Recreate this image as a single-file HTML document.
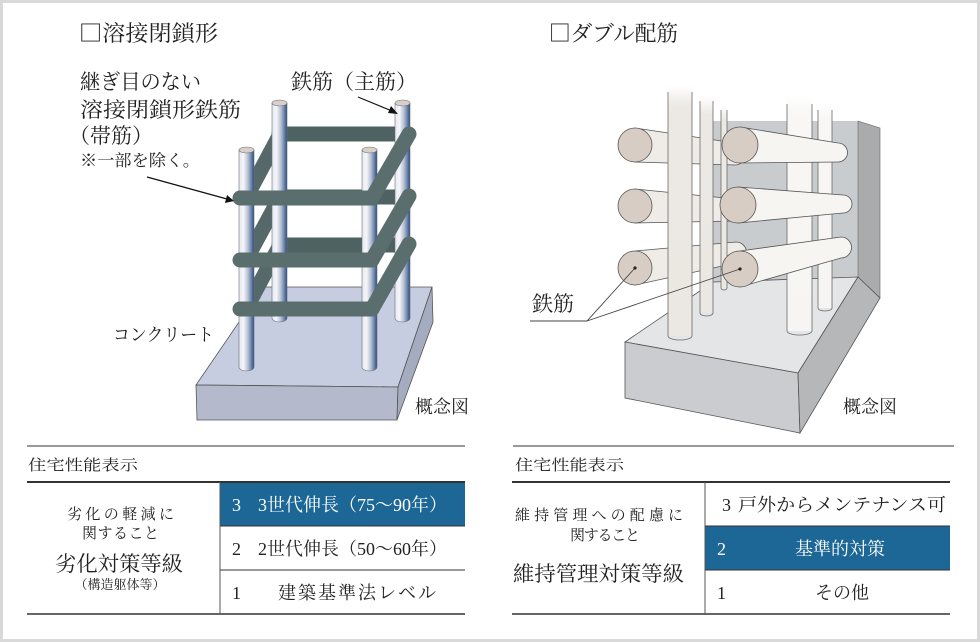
<!DOCTYPE html>
<html><head><meta charset="utf-8"><style>
html,body{margin:0;padding:0;background:#fff;}
svg{display:block;}
text{font-family:"Liberation Serif","Noto Serif CJK SC",serif;fill:#222;}
.cjk{font-family:"Noto Serif CJK SC","Noto Sans CJK JP",serif;}
</style></head><body>
<svg width="980" height="642" viewBox="0 0 980 642" xmlns="http://www.w3.org/2000/svg">
<defs>
<linearGradient id="col" x1="0" y1="0" x2="1" y2="0">
<stop offset="0" stop-color="#e6e8f0"/><stop offset="0.3" stop-color="#f6f6f9"/>
<stop offset="0.6" stop-color="#b4bfd3"/><stop offset="0.85" stop-color="#5f7ba6"/>
<stop offset="1" stop-color="#2d4a78"/></linearGradient>
<linearGradient id="vfade" x1="0" y1="0" x2="0" y2="1">
<stop offset="0" stop-color="#ffffff"/><stop offset="0.08" stop-color="#ece9e4"/><stop offset="1" stop-color="#ebe7e2"/></linearGradient>
<linearGradient id="vfade2" x1="0" y1="0" x2="0" y2="1">
<stop offset="0" stop-color="#ffffff"/><stop offset="0.08" stop-color="#f8f7f5"/><stop offset="1" stop-color="#f6f5f3"/></linearGradient>
</defs>

<rect x="1.5" y="1.5" width="977" height="639" fill="#fff" stroke="#d9d9d9" stroke-width="3"/>

<!-- ===== LEFT TITLE & LABELS ===== -->
<text x="79" y="41" font-size="22" textLength="139" lengthAdjust="spacingAndGlyphs"><tspan class="cjk">□</tspan>溶接閉鎖形</text>
<text x="80" y="89" font-size="21" textLength="121" lengthAdjust="spacingAndGlyphs">継ぎ目のない</text>
<text x="80" y="117" font-size="21" textLength="161" lengthAdjust="spacingAndGlyphs">溶接閉鎖形鉄筋</text>
<text x="69" y="143" font-size="21">（帯筋）</text>
<text x="80" y="166" font-size="16.5" textLength="120" lengthAdjust="spacingAndGlyphs">※一部を除く。</text>
<text x="291" y="89" font-size="21">鉄筋（主筋）</text>

<!-- slab -->
<polygon points="263,287 432,287 398,387 196,385" fill="#c6cde0" stroke="#555" stroke-width="0.8"/>
<polygon points="196,385 398,387 397,420 197,420" fill="#b4bacb" stroke="#555" stroke-width="0.8"/>
<polygon points="432,287 433,322 397,420 398,387" fill="#a5acbf" stroke="#555" stroke-width="0.8"/>

<!-- back bars -->
<g stroke="#4f6262" stroke-width="15" stroke-linecap="round">
<line x1="279" y1="134" x2="402" y2="134"/>
<line x1="279" y1="197" x2="402" y2="197"/>
<line x1="279" y1="245" x2="402" y2="245"/>
</g>
<!-- left diags -->
<g stroke="#56696a" stroke-width="15" stroke-linecap="round">
<line x1="279" y1="136" x2="246" y2="198"/>
<line x1="279" y1="199" x2="246" y2="260"/>
<line x1="279" y1="247" x2="246" y2="309"/>
</g>

<!-- columns -->
<g stroke="#6a6f7a" stroke-width="0.6">
<path d="M272 103 V318 A7.5 4 0 0 0 287 318 V103 Z" fill="url(#col)"/>
<ellipse cx="279.5" cy="103" rx="7.5" ry="3" fill="#d9cfc7"/>
<path d="M395 103 V318 A7.5 4 0 0 0 410 318 V103 Z" fill="url(#col)"/>
<ellipse cx="402.5" cy="103" rx="7.5" ry="3" fill="#d9cfc7"/>
<path d="M239 150 V367 A7.5 4 0 0 0 254 367 V150 Z" fill="url(#col)"/>
<ellipse cx="246.5" cy="150" rx="7.5" ry="3" fill="#d9cfc7"/>
<path d="M362 150 V367 A7.5 4 0 0 0 377 367 V150 Z" fill="url(#col)"/>
<ellipse cx="369.5" cy="150" rx="7.5" ry="3" fill="#d9cfc7"/>
</g>

<!-- front bars & right diags -->
<g stroke="#5b6e6e" stroke-width="15" stroke-linecap="round">
<line x1="240" y1="198" x2="372" y2="198"/>
<line x1="240" y1="260" x2="372" y2="260"/>
<line x1="240" y1="309" x2="372" y2="309"/>
<line x1="409" y1="134" x2="372" y2="198"/>
<line x1="409" y1="196" x2="372" y2="260"/>
<line x1="409" y1="244" x2="372" y2="309"/>
</g>

<!-- arrows -->
<g stroke="#111" stroke-width="1.2">
<line x1="358" y1="97" x2="392" y2="111"/>
<line x1="147" y1="177" x2="227" y2="199"/>
</g>
<polygon points="398,114 388,113 391,106" fill="#111"/>
<polygon points="234,201 225,203 227,195" fill="#111"/>

<text x="113" y="341" font-size="18" textLength="101" lengthAdjust="spacingAndGlyphs">コンクリート</text>
<text x="415" y="413" font-size="18">概念図</text>

<!-- ===== RIGHT TITLE ===== -->
<text x="549" y="41" font-size="22" textLength="129" lengthAdjust="spacingAndGlyphs"><tspan class="cjk">□</tspan>ダブル配筋</text>

<!-- wall & slab -->
<rect x="713" y="121" width="145" height="161" fill="#c9ccce"/>
<polygon points="858,121 880,128 880,298 858,277" fill="#a9abad" stroke="#666" stroke-width="0.6"/>
<polygon points="625,342 713,282 858,277 798,373" fill="#e3e5e7" stroke="#555" stroke-width="0.8"/>
<polygon points="625,342 798,373 800,433 625,398" fill="#cacccf" stroke="#555" stroke-width="0.8"/>
<polygon points="858,277 880,298 800,433 798,373" fill="#b5b7b9" stroke="#555" stroke-width="0.8"/>

<!-- back verticals -->
<rect x="787" y="96" width="25" height="235" fill="url(#vfade2)"/>
<path d="M787 104 V331 A12.5 4 0 0 0 812 331 V104" fill="none" stroke="#6a6a6a" stroke-width="0.8"/>
<rect x="818" y="103" width="14" height="205" fill="url(#vfade2)"/>
<path d="M818 110 V308 A7 3 0 0 0 832 308 V110" fill="none" stroke="#6a6a6a" stroke-width="0.8"/>

<!-- left group horizontal bars -->
<g stroke="#555" stroke-width="0.8">
<path d="M635 128 L735 143 A11 11 0 0 1 735 165 L635 162 Z" fill="#efebe6"/>
<circle cx="635" cy="145" r="17" fill="#d8cdc5"/>
<path d="M635 189 L735 199 A11 11 0 0 1 735 221 L635 223 Z" fill="#efebe6"/>
<circle cx="635" cy="206" r="17" fill="#d8cdc5"/>
<path d="M635 251 L736 242 A10.5 10.5 0 0 1 736 263 L635 285 Z" fill="#efebe6"/>
<circle cx="635" cy="268" r="17" fill="#d8cdc5"/>
</g>

<!-- front verticals -->
<rect x="668" y="86" width="24" height="250" fill="url(#vfade)"/>
<path d="M668 92 V336 A12 4 0 0 0 692 336 V92" fill="none" stroke="#6a6a6a" stroke-width="0.8"/>
<rect x="700" y="97" width="13" height="216" fill="url(#vfade)"/>
<path d="M700 101 V313 A6.5 3 0 0 0 713 313 V101" fill="none" stroke="#6a6a6a" stroke-width="0.8"/>
<rect x="721" y="106" width="6" height="182" fill="url(#vfade)"/>
<path d="M721 110 V288 A3 2 0 0 0 727 288 V110" fill="none" stroke="#6a6a6a" stroke-width="0.8"/>

<!-- right group horizontal bars -->
<g stroke="#555" stroke-width="0.8">
<path d="M740 127 L838 143 A9.5 9.5 0 0 1 838 162 L740 163 Z" fill="#f7f5f2"/>
<circle cx="740" cy="145" r="18" fill="#d8cdc5"/>
<path d="M738 187 L843 195 A9 9 0 0 1 843 213 L738 223 Z" fill="#f7f5f2"/>
<circle cx="738" cy="205" r="18" fill="#d8cdc5"/>
<path d="M740 251 L841 237 A10.5 10.5 0 0 1 841 258 L740 287 Z" fill="#f7f5f2"/>
<circle cx="740" cy="269" r="18" fill="#d8cdc5"/>
</g>

<!-- leader -->
<g stroke="#444" stroke-width="0.9" fill="none">
<polyline points="530,321 587,321 635,268"/>
<line x1="587" y1="321" x2="740" y2="269"/>
</g>
<circle cx="635" cy="268" r="1.6" fill="#222"/>
<circle cx="740" cy="269" r="1.6" fill="#222"/>
<text x="532" y="311" font-size="21">鉄筋</text>
<text x="843" y="413" font-size="18">概念図</text>

<!-- ===== LEFT TABLE ===== -->
<line x1="27" y1="446" x2="465" y2="446" stroke="#333" stroke-width="1"/>
<text x="28" y="470" font-size="15" textLength="110" lengthAdjust="spacingAndGlyphs">住宅性能表示</text>
<rect x="220" y="482" width="245" height="44" fill="#1d6797"/>
<line x1="27" y1="482" x2="465" y2="482" stroke="#333" stroke-width="2"/>
<line x1="220" y1="526" x2="465" y2="526" stroke="#333" stroke-width="1"/>
<line x1="220" y1="570" x2="465" y2="570" stroke="#333" stroke-width="1"/>
<line x1="27" y1="614" x2="465" y2="614" stroke="#333" stroke-width="1.5"/>
<line x1="220" y1="482" x2="220" y2="614" stroke="#555" stroke-width="1"/>
<text x="67" y="519" font-size="15" textLength="107" lengthAdjust="spacing">劣化の軽減に</text>
<text x="82" y="538" font-size="15" textLength="77" lengthAdjust="spacing">関すること</text>
<text x="55" y="571" font-size="21" textLength="128" lengthAdjust="spacingAndGlyphs">劣化対策等級</text>
<text x="120" y="589" font-size="13" text-anchor="middle">（構造躯体等）</text>
<text x="232" y="511" font-size="18" style="fill:#fff">3</text>
<text x="258" y="511" font-size="18" style="fill:#fff">3世代伸長（75〜90年）</text>
<text x="232" y="555" font-size="18">2</text>
<text x="258" y="555" font-size="18">2世代伸長（50〜60年）</text>
<text x="232" y="599" font-size="18">1</text>
<text x="278" y="599" font-size="18" textLength="158" lengthAdjust="spacing">建築基準法レベル</text>

<!-- ===== RIGHT TABLE ===== -->
<line x1="513" y1="446" x2="954" y2="446" stroke="#333" stroke-width="1"/>
<text x="515" y="470" font-size="15" textLength="109" lengthAdjust="spacingAndGlyphs">住宅性能表示</text>
<rect x="705" y="526" width="245" height="44" fill="#1d6797"/>
<line x1="512" y1="482" x2="950" y2="482" stroke="#333" stroke-width="2"/>
<line x1="705" y1="526" x2="950" y2="526" stroke="#333" stroke-width="1"/>
<line x1="705" y1="570" x2="950" y2="570" stroke="#333" stroke-width="1"/>
<line x1="512" y1="614" x2="950" y2="614" stroke="#333" stroke-width="1.5"/>
<line x1="705" y1="482" x2="705" y2="614" stroke="#555" stroke-width="1"/>
<text x="515" y="520" font-size="15" textLength="168" lengthAdjust="spacing">維持管理への配慮に</text>
<text x="570" y="540" font-size="15" textLength="70" lengthAdjust="spacing">関すること</text>
<text x="513" y="581" font-size="21" textLength="171" lengthAdjust="spacingAndGlyphs">維持管理対策等級</text>
<text x="722" y="511" font-size="18">3</text>
<text x="738" y="511" font-size="18" textLength="208" lengthAdjust="spacingAndGlyphs">戸外からメンテナンス可</text>
<text x="717" y="555" font-size="18" style="fill:#fff">2</text>
<text x="840" y="555" font-size="18" text-anchor="middle" style="fill:#fff">基準的対策</text>
<text x="717" y="599" font-size="18">1</text>
<text x="842" y="599" font-size="18" text-anchor="middle">その他</text>
</svg>
</body></html>
